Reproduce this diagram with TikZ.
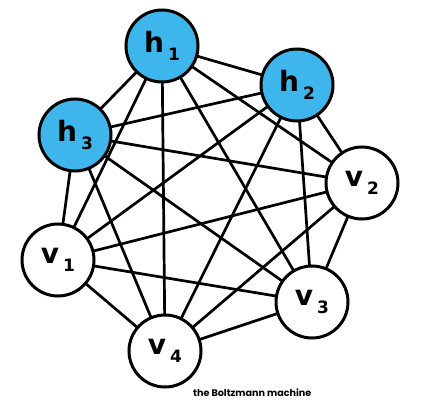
\documentclass[tikz,border=0pt]{standalone}
\usepackage{fontspec}
\setmainfont{DejaVu Sans}
\newfontfamily\capfont{Poppins}
\definecolor{hblue}{RGB}{62,182,235}
\begin{document}
\begin{tikzpicture}[x=1pt,y=-1pt,
  unit/.style={circle,draw=black,line width=3pt,minimum size=72pt,inner sep=0pt,fill=white},
  hid/.style={unit,fill=hblue},
  edge/.style={line width=2.7pt}]
\useasboundingbox (0,0) rectangle (426,404);
\newcommand{\lab}[2]{\bfseries\fontsize{28}{28}\selectfont #1\hspace{4pt}\raisebox{-8pt}{\fontsize{17}{17}\selectfont #2}}
\coordinate (ph1) at (162,46);
\coordinate (ph2) at (297,85);
\coordinate (ph3) at (75,135);
\coordinate (pv2) at (362,183);
\coordinate (pv1) at (58,260);
\coordinate (pv3) at (312,302);
\coordinate (pv4) at (165,351);
\foreach \a/\b in {h1/h2,h1/h3,h1/v1,h1/v2,h1/v3,h1/v4,
                   h2/h3,h2/v1,h2/v2,h2/v3,h2/v4,
                   h3/v1,h3/v2,h3/v3,h3/v4,
                   v1/v2,v1/v3,v1/v4,
                   v2/v3,v2/v4,
                   v3/v4}
  \draw[edge] (p\a) -- (p\b);
\node[hid] (h1) at (ph1) {\lab{h}{1}};
\node[hid] (h2) at (ph2) {\lab{h}{2}};
\node[hid] (h3) at (ph3) {\lab{h}{3}};
\node[unit] (v1) at (pv1) {\lab{v}{1}};
\node[unit] (v2) at (pv2) {\lab{v}{2}};
\node[unit] (v3) at (pv3) {\lab{v}{3}};
\node[unit] (v4) at (pv4) {\lab{v}{4}};
\node[anchor=base west,inner sep=0pt] (cap) at (193,396) {\capfont\bfseries\fontsize{9.6}{11}\selectfont the Boltzmann machine};
\end{tikzpicture}
\end{document}
